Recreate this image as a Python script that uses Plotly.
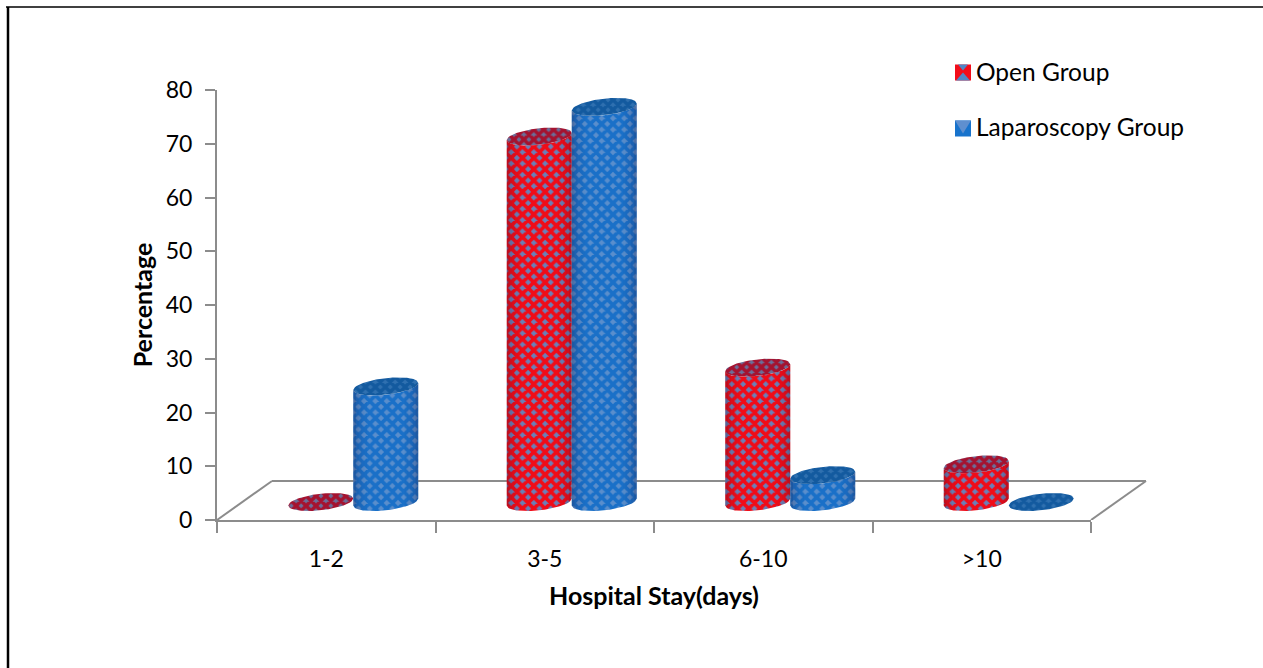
import math
import plotly.graph_objects as go

categories = ["1-2", "3-5", "6-10", ">10"]
open_group = [0, 68, 25, 7]
laparoscopy_group = [21.5, 73.5, 5, 0]
y_ticks = [0, 10, 20, 30, 40, 50, 60, 70, 80]

W, H = 1263, 668
L, R, T, B = 217, 1091, 90, 520
pxu = (B - T) / 80.0
band = (R - L) / 4.0
FLOOR = 18 / pxu           # bars stand mid-way on the 3-D floor
HALF = 32.5 / band         # cylinder half width in category units
SHIFT = 27 / band          # depth shift of the bars
BMIN = 8.3 / pxu           # ellipse semi-minor
TILT = 3.5 / pxu           # ellipse tilt
GRAY = "#8c8c8c"
FONT = "Lato"


def u_range(n, a=-1.0, b=1.0):
    return [a + (b - a) * i / n for i in range(n + 1)]


def arc(cx, cy, u, sign):
    return cx + HALF * u, cy + FLOOR + TILT * u + sign * BMIN * math.sqrt(max(0, 1 - u * u))


def body(cx, v):
    pts = [arc(cx, 0, u, -1) for u in u_range(40)]
    pts += [arc(cx, v, u, -1) for u in u_range(40, 1, -1)]
    return pts


def top(cx, v):
    pts = [arc(cx, v, u, 1) for u in u_range(40)]
    pts += [arc(cx, v, u, -1) for u in u_range(40, 1, -1)]
    return pts


def outline(pts):
    return [p[0] for p in pts] + [None], [p[1] for p in pts] + [None]


def centre(i, series):
    return i + SHIFT + (-HALF if series == 0 else HALF)


series = [
    ("Open Group", open_group, "#f00c18", "#6a80b8", "#a5122f", "#6a6f9a"),
    ("Laparoscopy Group", laparoscopy_group, "#1a70c8", "#5a8ecc", "#135a9f", "#2f70b0"),
]

fig = go.Figure()
shapes = []

for s, (name, vals, fg, bg, fgt, bgt) in enumerate(series):
    # Real bars: carry the values, the categories and the legend entry;
    # the patterned cylinder drawn over them gives them their 3-D look.
    inset = 9 / band
    fig.add_trace(go.Bar(
        x=categories, y=vals, base=FLOOR, name=name, legendgroup=name,
        width=2 * (HALF - inset),
        offset=SHIFT + (-2 * HALF + inset if s == 0 else inset),
        marker=dict(color="rgba(0,0,0,0)", line=dict(width=0)),
        hoverinfo="x+y",
    ))

for s, (name, vals, fg, bg, fgt, bgt) in enumerate(series):
    xs, ys = [], []
    xt, yt = [], []
    for i, v in enumerate(vals):
        cx = centre(i, s)
        if v > 0:
            a, b = outline(body(cx, v))
            xs += a
            ys += b
        a, b = outline(top(cx, v))
        xt += a
        yt += b
        if v > 0:
            us = u_range(24)
            for k in range(24):
                u0, u1 = us[k], us[k + 1]
                um = abs((u0 + u1) / 2)
                alpha = 0.30 * um ** 5
                if alpha < 0.015:
                    continue
                p = [arc(cx, 0, u0, -1), arc(cx, 0, u1, -1), arc(cx, v, u1, -1), arc(cx, v, u0, -1)]
                path = "M" + "L".join(f"{x:.4f},{y:.4f}" for x, y in p) + "Z"
                shapes.append(dict(type="path", path=path, xref="x2", yref="y", layer="above",
                                   fillcolor=f"rgba(40,20,50,{alpha:.3f})", line=dict(width=0)))
    fig.add_trace(go.Scatter(
        x=xs, y=ys, xaxis="x2", yaxis="y", mode="lines", line=dict(width=0, color=fg),
        fill="toself", fillcolor=bg, showlegend=False, hoverinfo="skip", legendgroup=name,
        fillpattern=dict(shape="x", size=8, solidity=0.72, fgcolor=fg, bgcolor=bg, fillmode="replace"),
    ))
    fig.add_trace(go.Scatter(
        x=xt, y=yt, xaxis="x2", yaxis="y", mode="lines", line=dict(width=0, color=fgt),
        fill="toself", fillcolor=bgt, showlegend=False, hoverinfo="skip", legendgroup=name,
        fillpattern=dict(shape="x", size=7, solidity=0.75, fgcolor=fgt, bgcolor=bgt, fillmode="replace"),
    ))

# 3-D floor: back edge and the two side edges
depth_x = 55 / (R - L)
depth_y = 39 / pxu
floor_lines = [
    (0, 0, depth_x, depth_y),
    (depth_x, depth_y, 1 + depth_x, depth_y),
    (1, 0, 1 + depth_x, depth_y),
]
floor_shapes = [dict(type="line", xref="paper", yref="y", x0=a, y0=b, x1=c, y1=d, layer="below",
                     line=dict(color=GRAY, width=2)) for a, b, c, d in floor_lines]


def px(x):
    return (x - L) / (R - L)


def py(y):
    return (B - y) / (B - T)


# legend keys, painted where the legend's own (transparent) swatches sit
def key_rect(x0, y0, x1, y1, color):
    return dict(type="rect", xref="paper", yref="paper", x0=px(x0), x1=px(x1), y0=py(y0), y1=py(y1),
                fillcolor=color, line=dict(width=0), layer="above")


def key_tri(pts, color):
    path = "M" + "L".join(f"{px(x):.5f},{py(y):.5f}" for x, y in pts) + "Z"
    return dict(type="path", path=path, xref="paper", yref="paper", fillcolor=color,
                line=dict(width=0), layer="above")


key_x0, key_x1 = 955, 971
keys = []
for cy, base_c, tri_c, edge in [(72.5, "#f20d1a", "#4f86c6", True), (128.5, "#1873cc", "#5f8fcf", False)]:
    y0, y1 = cy - 8, cy + 8
    keys.append(key_rect(key_x0, y0, key_x1, y1, base_c))
    mx = (key_x0 + key_x1) / 2
    if edge:
        keys.append(key_tri([(key_x0 + 3, y0), (key_x1 - 3, y0), (mx, cy - 2)], tri_c))
        keys.append(key_tri([(key_x0 + 1, y1), (key_x1 - 1, y1), (mx, cy)], tri_c))
    else:
        keys.append(key_tri([(key_x0, y0), (key_x1, y0), (mx, y1 - 3)], tri_c))

# page frame: top and left rules
frame = [
    dict(type="line", xref="paper", yref="paper", x0=px(6), x1=px(W), y0=py(7), y1=py(7),
         line=dict(color="black", width=1.5)),
    dict(type="line", xref="paper", yref="paper", x0=px(8), x1=px(8), y0=py(7), y1=py(H),
         line=dict(color="black", width=2.5)),
]

fig.update_layout(
    width=W, height=H, autosize=False,
    margin=dict(l=L, r=W - R, t=T, b=H - B, pad=0),
    paper_bgcolor="white", plot_bgcolor="white",
    barmode="overlay",
    font=dict(family=FONT, color="black", size=20),
    showlegend=True,
    legend=dict(x=px(936), xanchor="left", y=py(49), yanchor="top",
                font=dict(family=FONT, size=24.5, color="black"), tracegroupgap=20,
                bgcolor="rgba(0,0,0,0)", itemwidth=30),
    xaxis=dict(type="category", categoryorder="array", categoryarray=categories,
               range=[-0.5, 3.5], tickson="boundaries", ticks="outside", ticklen=11,
               tickcolor=GRAY, tickwidth=2, linecolor=GRAY, linewidth=2, showline=True,
               showgrid=False, zeroline=False, tickfont=dict(family=FONT, size=23),
               ticklabelstandoff=17,
               title=dict(text="<b>Hospital Stay(days)</b>", font=dict(family=FONT, size=25), standoff=17)),
    xaxis2=dict(overlaying="x", range=[-0.5, 3.5], visible=False, type="linear"),
    yaxis=dict(range=[0, 80], tickmode="array", tickvals=y_ticks, ticks="outside", ticklen=10,
               tickcolor=GRAY, tickwidth=2, linecolor=GRAY, linewidth=2, showline=True,
               showgrid=False, zeroline=False, tickfont=dict(family=FONT, size=23),
               ticklabelstandoff=8,
               title=dict(text="<b>Percentage</b>", font=dict(family=FONT, size=25), standoff=6)),
    shapes=floor_shapes + shapes + keys + frame,
)

fig.write_html("out.html", config=dict(displayModeBar=False),
               post_script="document.body.style.margin='0';document.body.style.overflow='hidden';")
